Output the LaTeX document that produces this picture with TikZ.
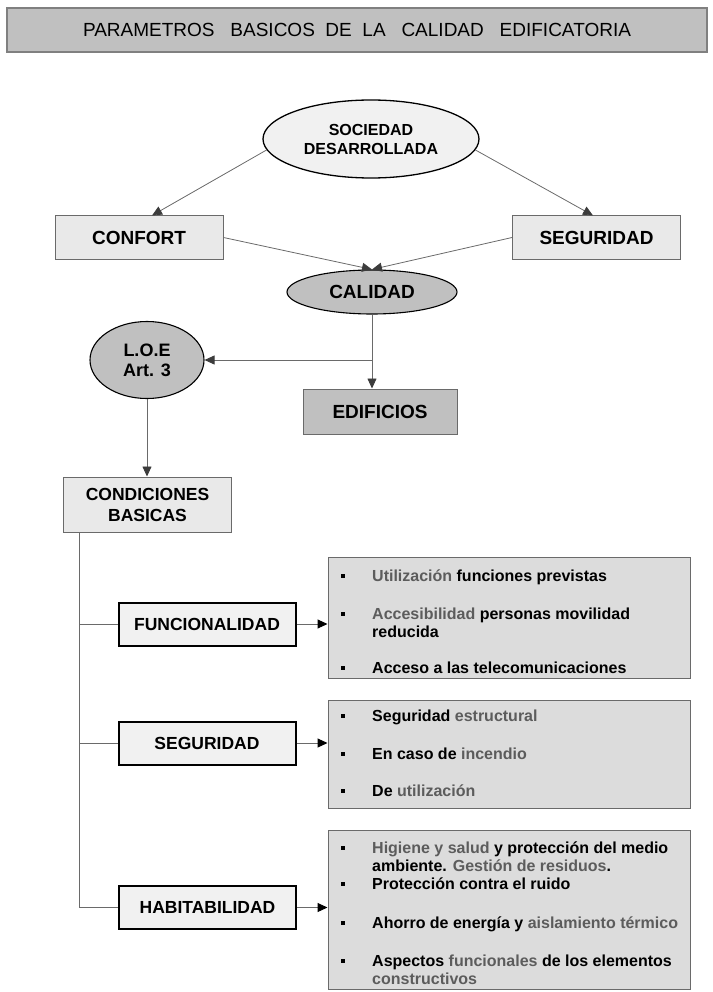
\documentclass[tikz,border=0pt]{standalone}
\usepackage{fontspec}
\setmainfont{Liberation Sans}
\usetikzlibrary{shapes.geometric,arrows.meta}
\definecolor{linegray}{HTML}{6A6A6A}
\definecolor{headgray}{HTML}{3C3C3C}
\definecolor{txtgray}{HTML}{5C5C5C}
\definecolor{boxlight}{HTML}{E9E9E9}
\definecolor{boxpale}{HTML}{F1F1F1}
\definecolor{boxmid}{HTML}{C0C0C0}
\definecolor{boxlist}{HTML}{DCDCDC}
\newcommand{\gr}[1]{\textcolor{txtgray}{#1}}
\newcommand{\bul}{\makebox[31pt][l]{\rule[3.5pt]{4pt}{4pt}}}
\newcommand{\twolines}[2]{\begin{tabular}[t]{@{}l@{}}#1\\#2\end{tabular}}

\begin{document}
\begin{tikzpicture}[x=1pt,y=-1pt,
  every node/.style={inner sep=0pt},
  titlebox/.style={draw=gray,line width=1.2pt,fill=boxmid,minimum width=700pt,minimum height=44pt,font=\fontsize{19}{22}\selectfont},
  ovalw/.style={ellipse,draw=black,line width=1.3pt,fill=boxpale,align=center,font=\bfseries\fontsize{16}{19}\selectfont},
  ovalg/.style={ellipse,draw=black,line width=1.1pt,fill=boxmid,align=center,font=\bfseries\fontsize{19}{20}\selectfont},
  boxa/.style={draw=linegray,line width=1pt,fill=boxlight,minimum width=168pt,minimum height=43pt,align=center,font=\bfseries\fontsize{19}{21}\selectfont},
  boxb/.style={draw=linegray,line width=1pt,fill=boxmid,minimum width=154pt,minimum height=45pt,font=\bfseries\fontsize{19}{21}\selectfont},
  boxc/.style={draw=black,line width=2pt,fill=boxpale,minimum width=177pt,minimum height=43pt,font=\bfseries\fontsize{17.5}{20}\selectfont},
  listbox/.style={draw=linegray,line width=1pt,fill=boxlist,minimum width=362pt},
  item/.style={anchor=base west,font=\bfseries\fontsize{16}{18.5}\selectfont},
  arr/.style={draw=linegray,line width=0.8pt,-{Triangle[length=10pt,width=9pt,color=headgray]}},
  arrb/.style={draw=linegray,line width=1pt,-{Triangle[length=10pt,width=9pt,color=black]}},
  conn/.style={draw=linegray,line width=1pt}]
\useasboundingbox (0,0) rectangle (712,992);

\node[titlebox] (title) at (357,30) {PARAMETROS\ \ \ BASICOS\ \ DE\ \ LA\ \ \ CALIDAD\ \ \ EDIFICATORIA};

\node[ovalw,minimum width=216pt,minimum height=78pt] (soc) at (371,139) {SOCIEDAD\\DESARROLLADA};
\node[boxa] (conf) at (139,237.5) {CONFORT};
\node[boxa] (seg) at (596.5,237.5) {SEGURIDAD};
\node[ovalg,minimum width=170pt,minimum height=44pt] (cal) at (372,292) {CALIDAD};
\node[ovalg,minimum width=114pt,minimum height=77pt,font=\bfseries\fontsize{18}{20}\selectfont] (loe) at (147,360) {L.O.E\\Art. 3};
\node[boxb] (edif) at (380,411.5) {EDIFICIOS};
\node[boxa,minimum height=55pt,font=\bfseries\fontsize{17.5}{21}\selectfont] (cond) at (147.5,504.5) {CONDICIONES\\BASICAS};

\node[boxc] (func) at (207,624) {FUNCIONALIDAD};
\node[boxc] (segc) at (207,743) {SEGURIDAD};
\node[boxc] (hab) at (207.5,907.5) {HABITABILIDAD};

\node[listbox,minimum height=121pt] (lfunc) at (509,617.5) {};
\node[listbox,minimum height=108pt] (lseg) at (509,754) {};
\node[listbox,minimum height=159pt] (lhab) at (509,909.5) {};

\node[item] (i1) at (341,581) {\bul\gr{Utilización} funciones previstas};
\node[item] (i2) at (341,619) {\bul\twolines{\gr{Accesibilidad} personas movilidad}{reducida}};
\node[item] (i3) at (341,673) {\bul Acceso a las telecomunicaciones};
\node[item] (i4) at (341,721) {\bul Seguridad \gr{estructural}};
\node[item] (i5) at (341,759) {\bul En caso de \gr{incendio}};
\node[item] (i6) at (341,796) {\bul De \gr{utilización}};
\node[item] (i7) at (341,853) {\bul\twolines{\gr{Higiene y salud} y protección del medio}{ambiente. \gr{Gestión de residuos}.}};
\node[item] (i8) at (341,889) {\bul Protección contra el ruido};
\node[item] (i9) at (341,928) {\bul Ahorro de energía y \gr{aislamiento térmico}};
\node[item] (i10) at (341,966) {\bul\twolines{Aspectos \gr{funcionales} de los elementos}{\gr{constructivos}}};

\draw[arr] (soc.186) -- ([xshift=13pt]conf.north);
\draw[arr] (soc.354) -- ([xshift=-3.5pt]seg.north);
\draw[arr] (conf.east) -- (cal.north);
\draw[arr] (seg.west) -- (cal.north);
\draw[arr] (cal.south) -- (cal.south |- edif.north);
\draw[arr] (cal.south |- loe.east) -- (loe.east);
\draw[arr] (loe.south) -- (loe.south |- cond.north);

\coordinate (trunk) at (79,532);
\draw[conn] (trunk) |- (hab.west);
\draw[conn] (trunk |- func.west) -- (func.west);
\draw[conn] (trunk |- segc.west) -- (segc.west);
\draw[arrb] (func.east) -- (func.east -| lfunc.west);
\draw[arrb] (segc.east) -- (segc.east -| lseg.west);
\draw[arrb] (hab.east) -- (hab.east -| lhab.west);
\end{tikzpicture}
\end{document}
